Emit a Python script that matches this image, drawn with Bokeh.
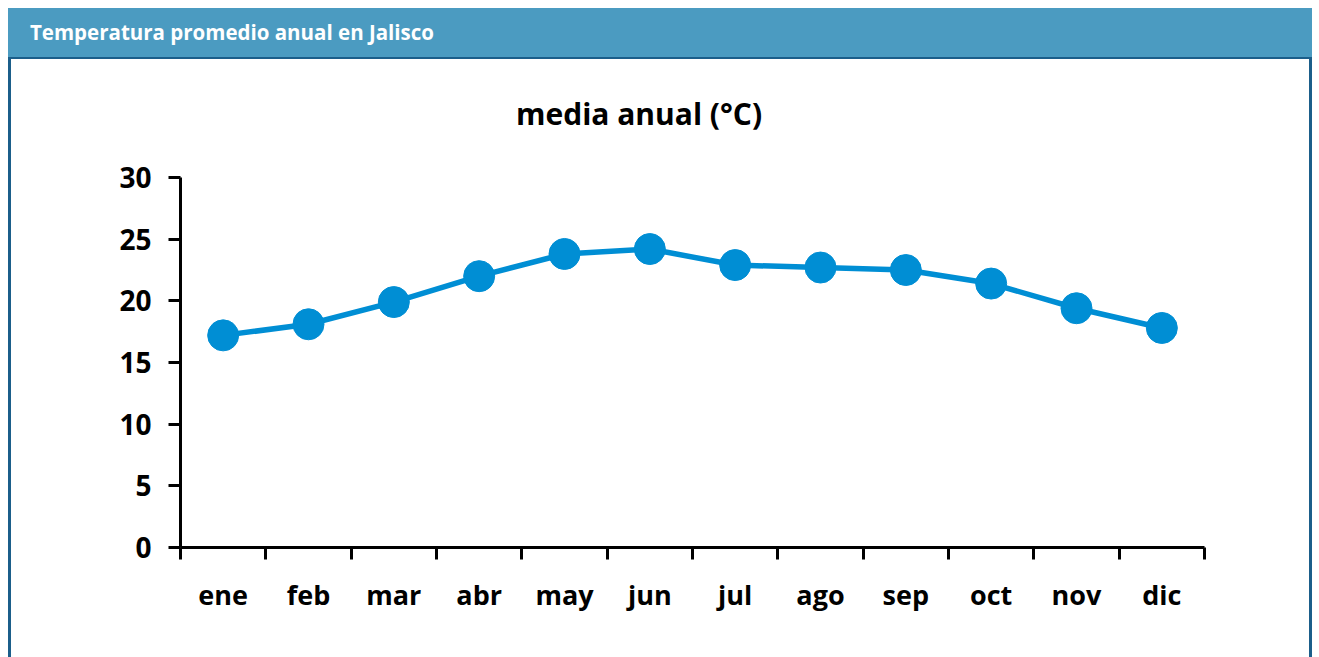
from bokeh.plotting import figure
from bokeh.models import Div, FixedTicker, Range1d, ColumnDataSource
from bokeh.layouts import column, row
from bokeh.embed import file_html
from bokeh.resources import INLINE

# ---- data ----
months = ["ene", "feb", "mar", "abr", "may", "jun", "jul", "ago", "sep", "oct", "nov", "dic"]
temps = [17.2, 18.1, 19.9, 22.0, 23.8, 24.2, 22.9, 22.7, 22.5, 21.4, 19.4, 17.8]
y_ticks = [0, 5, 10, 15, 20, 25, 30]
header_text = "Temperatura promedio anual en Jalisco"
chart_title = "media anual (°C)"

FONT = "Open Sans"
LINE_COLOR = "#008ED4"
DARK = "#1B5E8A"
HEADER_BG = "#4B9BC1"

xs = [i + 0.5 for i in range(len(months))]
src = ColumnDataSource(dict(x=xs, y=temps, m=months))

W = 1304
INNER_W = W - 6
INNER_H = 598
TITLE_H = 80
FIG_H = INNER_H - TITLE_H

p = figure(width=INNER_W, height=FIG_H, output_backend="svg", toolbar_location=None, title=None,
           x_range=Range1d(0, len(months)), y_range=Range1d(0, 30),
           min_border_left=169, min_border_right=105, min_border_top=118 - TITLE_H,
           min_border_bottom=110)
p.outline_line_color = None
p.grid.visible = False
p.background_fill_color = "white"
p.border_fill_color = "white"

p.line("x", "y", source=src, line_color=LINE_COLOR, line_width=5.5)
p.scatter("x", "y", source=src, size=31, fill_color=LINE_COLOR, line_color=LINE_COLOR)

# y axis
ya = p.yaxis[0]
ya.ticker = FixedTicker(ticks=y_ticks)
ya.axis_line_width = 3
ya.axis_line_color = "black"
ya.major_tick_line_width = 3
ya.major_tick_out = 12
ya.major_tick_in = 0
ya.minor_tick_out = 0
ya.minor_tick_in = 0
ya.major_label_text_font = FONT
ya.major_label_text_font_size = "28px"
ya.major_label_text_font_style = "bold"
ya.major_label_text_color = "black"
ya.major_label_standoff = 17

# x axis: labels at centres, ticks at boundaries
xa = p.xaxis[0]
xa.ticker = FixedTicker(ticks=xs, minor_ticks=list(range(len(months) + 1)))
xa.major_label_overrides = {x: m for x, m in zip(xs, months)}
xa.axis_line_width = 3
xa.axis_line_color = "black"
xa.major_tick_out = 0
xa.major_tick_in = 0
xa.minor_tick_out = 12
xa.minor_tick_in = 0
xa.minor_tick_line_width = 3
xa.minor_tick_line_color = "black"
xa.major_label_text_font = FONT
xa.major_label_text_font_size = "27px"
xa.major_label_text_font_style = "bold"
xa.major_label_text_color = "black"
xa.major_label_standoff = 16

header = Div(text=f'<div style="color:white;font-family:\'Open Sans\';font-weight:bold;font-size:20.5px;'
                  f'line-height:49px;padding-left:22px;white-space:nowrap;">{header_text}</div>',
             width=W, height=49, margin=(0, 0, 0, 0),
             styles={"background-color": HEADER_BG})
hline = Div(text="", width=W, height=2, margin=(0, 0, 0, 0), styles={"background-color": DARK})
title_div = Div(text=f'<div style="color:black;font-family:\'Open Sans\';font-weight:bold;font-size:30px;'
                     f'line-height:41px;padding-top:34px;padding-left:505px;white-space:nowrap;">{chart_title}</div>',
                width=INNER_W, height=TITLE_H, margin=(0, 0, 0, 0),
                styles={"background-color": "white"})
lb = Div(text="", width=3, height=INNER_H, margin=(0, 0, 0, 0), styles={"background-color": DARK})
rb = Div(text="", width=3, height=INNER_H, margin=(0, 0, 0, 0), styles={"background-color": DARK})

inner = column(title_div, p, spacing=0, margin=(0, 0, 0, 0))
layout = column(header, hline, row(lb, inner, rb, spacing=0), spacing=0, margin=(8, 0, 0, 8))

open("out.html", "w").write(file_html(layout, INLINE))
